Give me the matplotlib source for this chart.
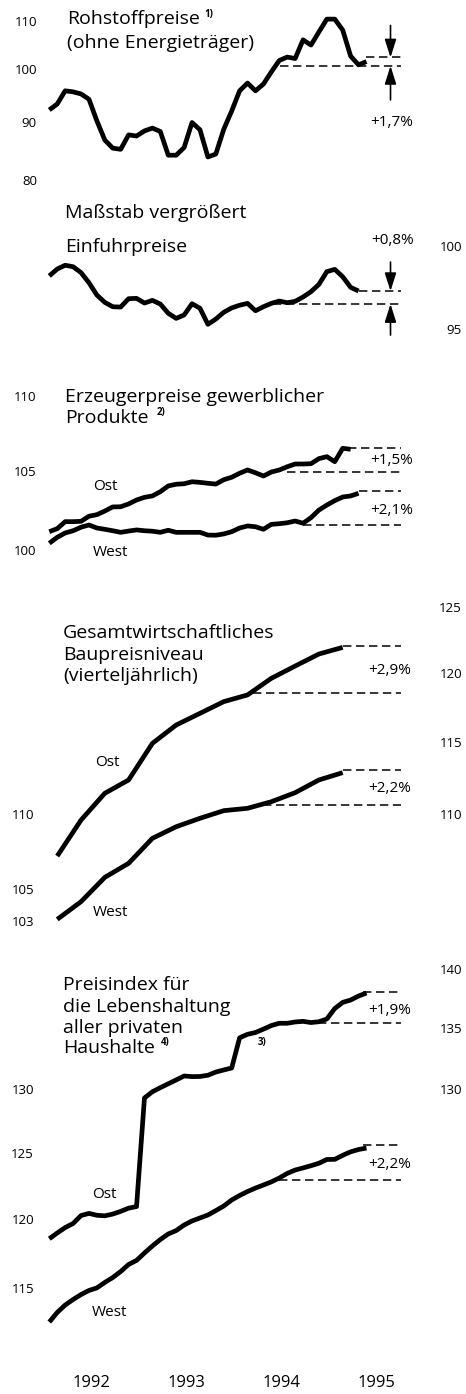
import numpy as np
import matplotlib
matplotlib.use('Agg')
import matplotlib.pyplot as plt
from matplotlib.transforms import blended_transform_factory

plt.rcParams['font.family'] = ['Open Sans', 'DejaVu Sans']

# ---------------- data (monthly from Jan 1992, index 0) ----------------
years = ['1992', '1993', '1994', '1995']

rohstoff = [92.4, 93.5, 96.0, 95.8, 95.4, 94.4, 90.4, 87.0, 85.6, 85.4, 87.9, 87.7,
            88.6, 89.1, 88.5, 84.4, 84.4, 85.7, 90.1, 88.8, 84.1, 84.6, 88.9, 92.2,
            96.0, 97.5, 96.0, 97.3, 99.7, 102.0, 102.7, 102.4, 106.3, 105.2, 108.0, 110.8,
            110.8, 108.4, 102.9, 101.1, 101.8]

einfuhr = [98.23, 98.65, 98.88, 98.79, 98.43, 97.82, 97.08, 96.64, 96.38, 96.36, 96.86, 96.88,
           96.60, 96.76, 96.54, 95.99, 95.69, 95.89, 96.56, 96.29, 95.34, 95.65, 96.05, 96.31,
           96.47, 96.58, 96.14, 96.38, 96.58, 96.72, 96.62, 96.70, 96.96, 97.28, 97.72, 98.49,
           98.63, 98.18, 97.54, 97.32]

erz_ost = [101.23, 101.42, 101.86, 101.86, 101.88, 102.20, 102.30, 102.53, 102.79, 102.80, 102.98, 103.23,
           103.40, 103.49, 103.76, 104.13, 104.24, 104.27, 104.40, 104.36, 104.30, 104.25, 104.53, 104.69,
           104.95, 105.16, 104.98, 104.77, 105.03, 105.16, 105.37, 105.55, 105.55, 105.57, 105.90, 106.03,
           105.70, 106.58, 106.51]

erz_west = [100.51, 100.88, 101.15, 101.29, 101.51, 101.65, 101.46, 101.38, 101.29, 101.19, 101.27, 101.34,
            101.29, 101.26, 101.19, 101.32, 101.19, 101.19, 101.19, 101.19, 101.02, 101.01, 101.09, 101.23,
            101.46, 101.59, 101.54, 101.38, 101.69, 101.73, 101.79, 101.90, 101.76, 102.11, 102.59, 102.91,
            103.19, 103.42, 103.49, 103.66]

# quarterly (mid-quarter months), Q1 1992 .. Q1 1995
bau_ost = [107.28, 109.69, 111.52, 112.44, 115.01, 116.32, 117.16, 118.01, 118.50, 119.72, 120.63, 121.53, 122.03]
bau_west = [103.17, 104.30, 105.88, 106.80, 108.46, 109.24, 109.81, 110.33, 110.49, 110.94, 111.56, 112.44, 112.95]

vpi_ost = [118.67, 119.09, 119.49, 119.79, 120.38, 120.54, 120.40, 120.36, 120.49, 120.69, 120.93, 121.05,
           129.44, 129.94, 130.27, 130.58, 130.89, 131.21, 131.16, 131.17, 131.27, 131.53, 131.70, 131.86,
           134.34, 134.63, 134.78, 135.06, 135.36, 135.55, 135.55, 135.66, 135.71, 135.61, 135.68, 135.91,
           136.79, 137.31, 137.51, 137.85, 138.11]

vpi_west = [112.72, 113.39, 113.91, 114.30, 114.65, 114.94, 115.12, 115.51, 115.86, 116.29, 116.80, 117.09,
            117.63, 118.14, 118.61, 119.02, 119.27, 119.68, 119.98, 120.20, 120.42, 120.75, 121.09, 121.54,
            121.88, 122.18, 122.44, 122.67, 122.91, 123.20, 123.55, 123.81, 123.97, 124.14, 124.33, 124.62,
            124.63, 124.94, 125.21, 125.39, 125.50]

# reference levels and percentage changes
roh_base, roh_pct = 100.9, 1.7
ein_base, ein_pct = 96.54, 0.8
erz_ost_base, erz_ost_pct = 105.05, 1.5
erz_west_base, erz_west_pct = 101.65, 2.1
bau_ost_base, bau_ost_pct = 118.66, 2.9
bau_west_base, bau_west_pct = 110.72, 2.2
vpi_ost_base, vpi_ost_pct = 135.6, 1.9
vpi_west_base, vpi_west_pct = 123.05, 2.2

# ---------------- layout ----------------
W, H = 466, 1394
fig = plt.figure(figsize=(W / 100, H / 100), dpi=100)
fig.patch.set_facecolor('white')

PX0, PXM = 49.3, 7.93          # pixel x of month 0 and pixels per month
XMIN = (0 - PX0) / PXM
XMAX = (W - PX0) / PXM
DASH_END = 44.4
LW = 3.4
DLW = 1.1
DASH = (0, (5.5, 3.0))


def make_axes(k, vref, yref):
    ax = fig.add_axes([0, 0, 1, 1])
    ax.set_yscale('log')
    ax.set_xlim(XMIN, XMAX)
    ax.set_ylim(vref * np.exp((yref - H) / k), vref * np.exp(yref / k))
    ax.axis('off')
    ax.patch.set_alpha(0)
    return ax


def ptext(x, y, s, **kw):
    fig.text(x / W, 1 - y / H, s, **kw)


def yticks(ax, vals, xpx, ha):
    tr = blended_transform_factory(ax.transAxes, ax.transData)
    for v in vals:
        ax.text(xpx / W, v, str(v), transform=tr, ha=ha, va='center', fontsize=9.5)


def line(ax, vals, step=1, start=0):
    x = start + step * np.arange(len(vals))
    ax.plot(x, vals, color='black', lw=LW, solid_capstyle='butt', solid_joinstyle='round')


def dashes(ax, base, pct, x_low, x_up):
    up = base * (1 + pct / 100)
    ax.hlines(base, x_low, DASH_END, colors='black', lw=DLW, linestyles=[DASH])
    ax.hlines(up, x_up, DASH_END, colors='black', lw=DLW, linestyles=[DASH])
    return up


def pct_label(pct):
    return ('+%.1f%%' % pct).replace('.', ',')


def arrows(ax, base, up, xm, len_up, len_low):
    ap = dict(arrowstyle='-|>,head_length=1.1,head_width=0.35', lw=1.2, color='black',
              shrinkA=0, shrinkB=0)
    ax.annotate('', xy=(xm, up), xytext=(0, len_up * 0.72), textcoords='offset points', arrowprops=ap)
    ax.annotate('', xy=(xm, base), xytext=(0, -len_low * 0.72), textcoords='offset points', arrowprops=ap)


TFS = 14     # title font size
LFS = 11     # labels
FNS = 7      # footnote markers
ARROW_X = (390.5 - PX0) / PXM

# ---------- panel 1: Rohstoffpreise ----------
ax1 = make_axes(500, 100, 70.4)
line(ax1, rohstoff)
up = dashes(ax1, roh_base, roh_pct, 29.1, len(rohstoff) - 1)
arrows(ax1, roh_base, up, ARROW_X, 32, 34)
yticks(ax1, [110, 100, 90, 80], 37, 'right')
ptext(67, 19, 'Rohstoffpreise', fontsize=TFS, va='center')
ptext(204, 15, '1)', fontsize=FNS, fontweight='bold', va='center')
ptext(67, 43, '(ohne Energieträger)', fontsize=TFS, va='center')
ptext(392, 123, pct_label(roh_pct), fontsize=LFS, ha='center', va='center')

# ---------- panel 2: Einfuhrpreise ----------
ax2 = make_axes(1620, 100, 247)
line(ax2, einfuhr)
up = dashes(ax2, ein_base, ein_pct, 28.2, len(einfuhr) - 1)
arrows(ax2, ein_base, up, ARROW_X, 29, 31)
yticks(ax2, [100, 95], 462, 'right')
ptext(65, 213, 'Maßstab vergrößert', fontsize=TFS, va='center')
ptext(65, 247, 'Einfuhrpreise', fontsize=TFS, va='center')
ptext(392, 240, pct_label(ein_pct), fontsize=LFS, ha='center', va='center')

# ---------- panel 3: Erzeugerpreise ----------
ax3 = make_axes(1620, 100, 551.5)
line(ax3, erz_ost)
line(ax3, erz_west)
dashes(ax3, erz_ost_base, erz_ost_pct, 30, 37.7)
dashes(ax3, erz_west_base, erz_west_pct, 32, len(erz_west) - 1)
yticks(ax3, [110, 105, 100], 36, 'right')
ptext(65, 397, 'Erzeugerpreise gewerblicher', fontsize=TFS, va='center')
ptext(65, 418, 'Produkte', fontsize=TFS, va='center')
ptext(157, 413, '2)', fontsize=FNS, fontweight='bold', va='center')
ptext(105, 487, 'Ost', fontsize=LFS, ha='center', va='center')
ptext(93, 552, 'West', fontsize=LFS, ha='left', va='center')
ptext(392, 460, pct_label(erz_ost_pct), fontsize=LFS, ha='center', va='center')
ptext(392, 510, pct_label(erz_west_pct), fontsize=LFS, ha='center', va='center')

# ---------- panel 4: Baupreisniveau ----------
ax4 = make_axes(1620, 110, 815.5)
line(ax4, bau_ost, step=3, start=1)
line(ax4, bau_west, step=3, start=1)
dashes(ax4, bau_ost_base, bau_ost_pct, 25.7, 37)
dashes(ax4, bau_west_base, bau_west_pct, 27, 37)
yticks(ax4, [110, 105, 103], 34, 'right')
yticks(ax4, [125, 120, 115, 110], 462, 'right')
ptext(63, 633, 'Gesamtwirtschaftliches', fontsize=TFS, va='center')
ptext(63, 655, 'Baupreisniveau', fontsize=TFS, va='center')
ptext(63, 676, '(vierteljährlich)', fontsize=TFS, va='center')
ptext(107, 763, 'Ost', fontsize=LFS, ha='center', va='center')
ptext(93, 912, 'West', fontsize=LFS, ha='left', va='center')
ptext(390, 670, pct_label(bau_ost_pct), fontsize=LFS, ha='center', va='center')
ptext(390, 789, pct_label(bau_west_pct), fontsize=LFS, ha='center', va='center')

# ---------- panel 5: Lebenshaltung ----------
ax5 = make_axes(1620, 130, 1091)
line(ax5, vpi_ost)
line(ax5, vpi_west)
dashes(ax5, vpi_ost_base, vpi_ost_pct, 29, 39.6)
dashes(ax5, vpi_west_base, vpi_west_pct, 29, 39.6)
yticks(ax5, [130, 125, 120, 115], 34, 'right')
yticks(ax5, [140, 135, 130], 462, 'right')
ptext(63, 985, 'Preisindex für', fontsize=TFS, va='center')
ptext(63, 1007, 'die Lebenshaltung', fontsize=TFS, va='center')
ptext(63, 1028, 'aller privaten', fontsize=TFS, va='center')
ptext(63, 1048, 'Haushalte', fontsize=TFS, va='center')
ptext(161, 1043, '4)', fontsize=FNS, fontweight='bold', va='center')
ptext(258, 1042, '3)', fontsize=FNS, fontweight='bold', va='center')
ptext(92, 1195, 'Ost', fontsize=LFS, ha='left', va='center')
ptext(92, 1312, 'West', fontsize=LFS, ha='left', va='center')
ptext(390, 1010, pct_label(vpi_ost_pct), fontsize=LFS, ha='center', va='center')
ptext(390, 1165, pct_label(vpi_west_pct), fontsize=LFS, ha='center', va='center')

# ---------- year labels ----------
trx = blended_transform_factory(ax5.transData, ax5.transAxes)
for i, yr in enumerate(years):
    ax5.text(5.3 + 12 * i, 1 - 1383 / H, yr, transform=trx, ha='center', va='center', fontsize=12)

fig.savefig('out.png', dpi=100, facecolor='white')
